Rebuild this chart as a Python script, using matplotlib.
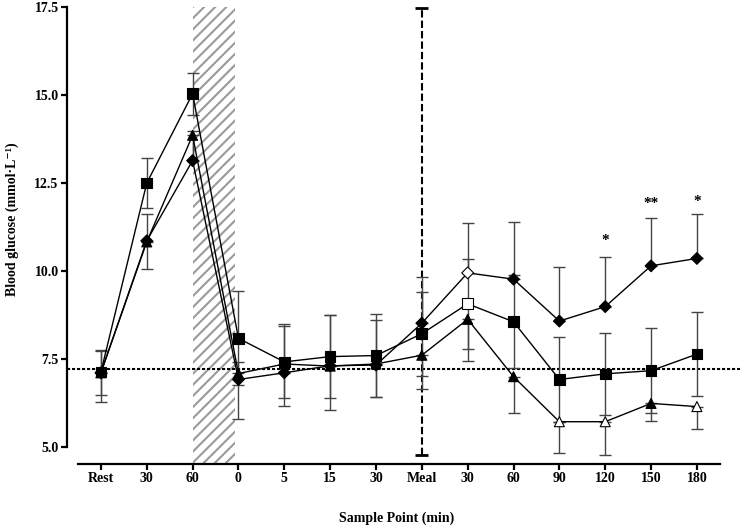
import matplotlib
matplotlib.use("Agg")
import matplotlib.pyplot as plt
import numpy as np

plt.rcParams['font.family'] = ['Liberation Serif', 'DejaVu Serif']
plt.rcParams['font.weight'] = 'bold'
plt.rcParams['hatch.linewidth'] = 1.5

# sample points
labels = ['Rest', '30', '60', '0', '5', '15', '30', 'Meal', '30', '60', '90', '120', '150', '180']

# squares (error both ways)
square = [7.12, 12.49, 15.03, 8.08, 7.41, 7.56, 7.59, 8.21, 9.06, 8.55, 6.91, 7.07, 7.16, 7.63]
square_err = [0.64, 0.72, 0.60, 1.34, 1.02, 1.17, 1.17, 1.20, 1.28, 1.32, 1.22, 1.17, 1.20, 1.19]
square_open = [8]

# triangles (error down only)
triangle = [7.10, 10.82, 13.85, 7.08, 7.35, 7.29, 7.35, 7.60, 8.62, 6.99, 5.71, 5.71, 6.23, 6.14]
triangle_err = [0.84, 0.77, 0.70, 1.30, 1.19, 1.25, 0.93, 0.97, 1.19, 1.04, 0.90, 0.95, 0.49, 0.65]
triangle_open = [10, 11, 13]

# diamonds (error up only)
diamond = [7.10, 10.85, 13.13, 6.91, 7.10, 7.30, 7.32, 8.51, 9.94, 9.76, 8.57, 8.98, 10.14, 10.35]
diamond_err = [0.62, 0.75, 0.84, 0.50, 1.38, 1.44, 1.28, 1.31, 1.42, 1.62, 1.54, 1.40, 1.35, 1.25]
diamond_open = [8]

baseline = 7.2
stars = {11: '*', 12: '**', 13: '*'}
star_y = [10.85, 11.92, 11.98]

x = np.arange(len(labels))

fig = plt.figure(figsize=(7.4, 5.26), dpi=100)
ax = fig.add_axes([0.0905, 0.118, 0.9095, 0.869])

# exercise period
ax.axvspan(2.0, 2.92, facecolor='none', edgecolor='#9a9a9a', hatch='///', linewidth=0, zorder=0)

# baseline and meal line
ax.axhline(baseline, color='black', lw=1.5, linestyle=(0, (1.5, 0.9)), zorder=1)
ax.vlines(7, 4.76, 17.46, colors='black', lw=1.5, linestyles=(0, (3.5, 1.5)), zorder=1)
ax.hlines([4.76, 17.46], 6.86, 7.14, colors='black', lw=2, zorder=1)

zeros = np.zeros(len(x))
ekw = dict(fmt='none', ecolor='#444444', elinewidth=1, capsize=4, capthick=1, zorder=2)
ax.errorbar(x, square, yerr=[square_err, square_err], **ekw)
ax.errorbar(x, triangle, yerr=[triangle_err, zeros], **ekw)
ax.errorbar(x, diamond, yerr=[zeros, diamond_err], **ekw)

series = [(square, 's', 7.7, square_open),
          (triangle, '^', 7.2, triangle_open),
          (diamond, 'D', 6.0, diamond_open)]
for vals, mk, ms, opn in series:
    ax.plot(x, vals, color='black', lw=1, zorder=3)
    fc = ['white' if i in opn else 'black' for i in range(len(x))]
    ax.scatter(x, vals, marker=mk, s=ms ** 2, facecolors=fc, edgecolors='black',
               linewidths=0.8, zorder=4)

for (i, s), yy in zip(stars.items(), star_y):
    ax.text(i, yy, s, ha='center', va='center', fontsize=11, fontweight='bold')

ax.set_xlim(-0.74, 13.94)
ax.set_ylim(4.51, 17.5)
ax.spines['top'].set_visible(False)
ax.spines['right'].set_visible(False)
ax.spines['left'].set_bounds(5, 17.5)
ax.spines['bottom'].set_bounds(-0.5, 13.5)
ax.spines['left'].set_linewidth(1.6)
ax.spines['bottom'].set_linewidth(1.6)

ax.set_xticks(x)
ax.set_xticklabels(labels)
ax.set_yticks([5.0, 7.5, 10.0, 12.5, 15.0, 17.5])
ax.set_yticklabels(['5.0', '7.5', '10.0', '12.5', '15.0', '17.5'])
ax.tick_params(axis='both', direction='out', length=4, width=1.6, labelsize=10, pad=2)

ax.set_xlabel('Sample Point (min)', fontsize=10, fontweight='bold')
ax.xaxis.set_label_coords(0.49, -0.105)
ax.set_ylabel('Blood glucose (mmol\u00b7L\u207b\u00b9)', fontsize=10, fontweight='bold')
ax.yaxis.set_label_coords(-0.071, 0.535)

fig.savefig('out.png', dpi=100)
